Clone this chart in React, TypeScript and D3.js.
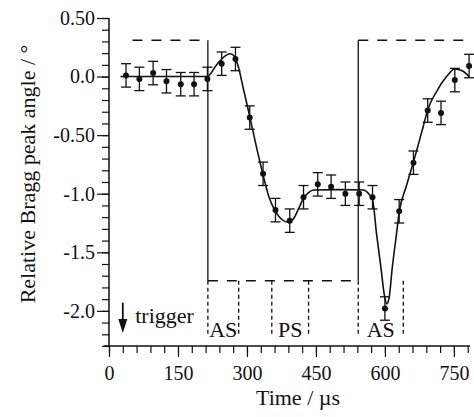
import React, { useEffect, useRef } from "react";
import * as d3 from "d3";

// measured points (time in µs, angle in degrees)
const times = [37, 66, 96, 125, 156, 185, 214, 245, 275, 306, 335, 362, 393, 423, 454, 483, 514, 544, 573, 600, 631, 662, 693, 722, 752, 783];
const values = [0.01, -0.02, 0.03, -0.04, -0.065, -0.065, -0.02, 0.11, 0.15, -0.35, -0.83, -1.14, -1.23, -1.03, -0.92, -0.94, -1.0, -1.0, -1.03, -1.98, -1.15, -0.735, -0.29, -0.31, -0.03, 0.09];
const errors = [0.1, 0.1, 0.1, 0.1, 0.1, 0.1, 0.1, 0.1, 0.1, 0.1, 0.1, 0.1, 0.1, 0.1, 0.1, 0.1, 0.1, 0.1, 0.1, 0.1, 0.1, 0.1, 0.1, 0.1, 0.1, 0.1];

// fitted curve
const fitTimes = [25, 214, 222, 232, 245, 256, 264, 272, 280, 292, 306, 320, 335, 348, 362, 376, 390, 402, 412, 423, 434, 445, 500, 553, 564, 573, 582, 591, 599, 604, 609, 616, 624, 631, 647, 662, 683, 693, 712, 734, 752, 768, 783];
const fitValues = [0, 0, 0.03, 0.09, 0.15, 0.185, 0.195, 0.175, 0.1, -0.1, -0.34, -0.59, -0.84, -1.03, -1.15, -1.22, -1.245, -1.21, -1.13, -1.04, -0.99, -0.968, -0.965, -0.968, -0.997, -1.05, -1.35, -1.62, -1.87, -1.94, -1.89, -1.63, -1.38, -1.16, -0.93, -0.73, -0.43, -0.285, -0.13, 0.0, 0.065, 0.05, 0.0];

// stimulation trace
const pulseHigh = 0.31;
const pulseLow = -1.743;
const pulseStart = 51;
const pulseOn = 215;
const pulseOff = 542;
const pulseEnd = 785;
const markerTimes = [215, 282, 354, 434, 542, 640];
const regionLabels = ["AS", "PS", "AS"];
const regionBounds = [[215, 282], [354, 434], [542, 640]];

const xMajor = [0, 150, 300, 450, 600, 750];
const xMinor = d3.range(0, 781, 30);
const yMajor = [0.5, 0, -0.5, -1.0, -1.5, -2.0];
const yMajorLabels = ["0.50", "0.0", "-0.50", "-1.0", "-1.5", "-2.0"];
const yMinor = d3.range(-23, 6).map((d) => d / 10);

const W = 474;
const H = 417;
const FONT = "Liberation Serif, DejaVu Serif, Times New Roman, serif";

const App = () => {
  const svgRef = useRef(null);

  useEffect(() => {
    const svg = d3.select(svgRef.current);
    svg.selectAll("*").remove();

    const x = d3.scaleLinear().domain([0, 785]).range([109, 470]);
    const y = d3.scaleLinear().domain([-2.3, 0.5]).range([346, 18]);
    const ink = "#111";

    // y axis
    const yMinorG = svg
      .append("g")
      .attr("transform", `translate(${x(0)},0)`)
      .call(d3.axisLeft(y).tickValues(yMinor).tickSize(7).tickFormat(() => ""));
    yMinorG.select(".domain").remove();
    const yG = svg
      .append("g")
      .attr("transform", `translate(${x(0)},0)`)
      .call(
        d3
          .axisLeft(y)
          .tickValues(yMajor)
          .tickSize(12)
          .tickPadding(2)
          .tickFormat((d, i) => yMajorLabels[i])
      );
    yG.select(".domain").remove();
    svg
      .append("line")
      .attr("x1", x(0))
      .attr("x2", x(0))
      .attr("y1", y(0.5))
      .attr("y2", y(-2.3))
      .attr("stroke", ink)
      .attr("stroke-width", 1.5);

    // x axis
    const xMinorG = svg
      .append("g")
      .attr("transform", `translate(0,${y(-2.3)})`)
      .call(d3.axisBottom(x).tickValues(xMinor).tickSize(7).tickFormat(() => ""));
    xMinorG.select(".domain").remove();
    const xG = svg
      .append("g")
      .attr("transform", `translate(0,${y(-2.3)})`)
      .call(d3.axisBottom(x).tickValues(xMajor).tickSize(11).tickPadding(9).tickFormat(d3.format("d")));
    xG.select(".domain").remove();
    svg
      .append("line")
      .attr("x1", x(-12))
      .attr("x2", x(785))
      .attr("y1", y(-2.3))
      .attr("y2", y(-2.3))
      .attr("stroke", ink)
      .attr("stroke-width", 1.5);

    svg.selectAll("g").attr("font-family", FONT).attr("font-size", 20);
    svg.selectAll(".tick line").attr("stroke", ink).attr("stroke-width", 1.2);
    svg.selectAll(".tick text").attr("fill", ink);

    // stimulation trace
    const dashed = [
      [pulseStart, pulseOn, pulseHigh],
      [pulseOn, pulseOff, pulseLow],
      [pulseOff, pulseEnd, pulseHigh],
    ];
    svg
      .selectAll(".pulse")
      .data(dashed)
      .enter()
      .append("line")
      .attr("x1", (d) => x(d[0]))
      .attr("x2", (d) => x(d[1]))
      .attr("y1", (d) => y(d[2]))
      .attr("y2", (d) => y(d[2]))
      .attr("stroke", ink)
      .attr("stroke-width", 1.3)
      .attr("stroke-dasharray", "10,9");
    svg
      .selectAll(".edge")
      .data([pulseOn, pulseOff])
      .enter()
      .append("line")
      .attr("x1", (d) => x(d))
      .attr("x2", (d) => x(d))
      .attr("y1", y(pulseHigh))
      .attr("y2", y(pulseLow))
      .attr("stroke", ink)
      .attr("stroke-width", 1.3);
    svg
      .selectAll(".marker")
      .data(markerTimes)
      .enter()
      .append("line")
      .attr("x1", (d) => x(d))
      .attr("x2", (d) => x(d))
      .attr("y1", y(pulseLow))
      .attr("y2", y(-2.21))
      .attr("stroke", ink)
      .attr("stroke-width", 1.3)
      .attr("stroke-dasharray", "4,3");
    svg
      .selectAll(".region")
      .data(regionLabels)
      .enter()
      .append("text")
      .attr("x", (d, i) => x((regionBounds[i][0] + regionBounds[i][1]) / 2))
      .attr("y", y(-2.225))
      .attr("text-anchor", "middle")
      .attr("fill", ink)
      .attr("font-family", FONT)
      .attr("font-size", 22)
      .text((d) => d);

    // trigger arrow
    svg
      .append("line")
      .attr("x1", x(30))
      .attr("x2", x(30))
      .attr("y1", y(-1.93))
      .attr("y2", y(-2.1))
      .attr("stroke", ink)
      .attr("stroke-width", 1.8);
    svg
      .append("path")
      .attr(
        "d",
        `M${x(30) - 4.5},${y(-2.07)} L${x(30) + 4.5},${y(-2.07)} L${x(30)},${y(-2.19)} Z`
      )
      .attr("fill", ink);
    svg
      .append("text")
      .attr("x", x(57))
      .attr("y", y(-2.105))
      .attr("fill", ink)
      .attr("font-family", FONT)
      .attr("font-size", 22)
      .text("trigger");

    // fit curve
    const line = d3
      .line()
      .x((d) => x(d[0]))
      .y((d) => y(d[1]))
      .curve(d3.curveMonotoneX);
    svg
      .append("path")
      .attr("d", line(fitTimes.map((t, i) => [t, fitValues[i]])))
      .attr("fill", "none")
      .attr("stroke", ink)
      .attr("stroke-width", 1.6);

    // error bars and points
    const pts = times.map((t, i) => ({ t, v: values[i], e: errors[i] }));
    const eb = svg.append("g").attr("stroke", ink).attr("stroke-width", 1.3);
    eb.selectAll(".stem")
      .data(pts)
      .enter()
      .append("line")
      .attr("x1", (d) => x(d.t))
      .attr("x2", (d) => x(d.t))
      .attr("y1", (d) => y(d.v + d.e))
      .attr("y2", (d) => y(d.v - d.e));
    eb.selectAll(".capTop")
      .data(pts)
      .enter()
      .append("line")
      .attr("x1", (d) => x(d.t) - 5)
      .attr("x2", (d) => x(d.t) + 5)
      .attr("y1", (d) => y(d.v + d.e))
      .attr("y2", (d) => y(d.v + d.e));
    eb.selectAll(".capBot")
      .data(pts)
      .enter()
      .append("line")
      .attr("x1", (d) => x(d.t) - 5)
      .attr("x2", (d) => x(d.t) + 5)
      .attr("y1", (d) => y(d.v - d.e))
      .attr("y2", (d) => y(d.v - d.e));
    svg
      .selectAll(".pt")
      .data(pts)
      .enter()
      .append("circle")
      .attr("cx", (d) => x(d.t))
      .attr("cy", (d) => y(d.v))
      .attr("r", 3)
      .attr("fill", ink);

    // axis titles
    svg
      .append("text")
      .attr("transform", `translate(35,174) rotate(-90)`)
      .attr("text-anchor", "middle")
      .attr("fill", ink)
      .attr("font-family", FONT)
      .attr("font-size", 22)
      .text("Relative Bragg peak angle / °");
    svg
      .append("text")
      .attr("x", 298)
      .attr("y", 405)
      .attr("text-anchor", "middle")
      .attr("fill", ink)
      .attr("font-family", FONT)
      .attr("font-size", 22)
      .text("Time / µs");
  }, []);

  return (
    <svg
      ref={svgRef}
      width={W}
      height={H}
      style={{ position: "absolute", left: 0, top: 0, background: "#fff" }}
    ></svg>
  );
};

export default App;
